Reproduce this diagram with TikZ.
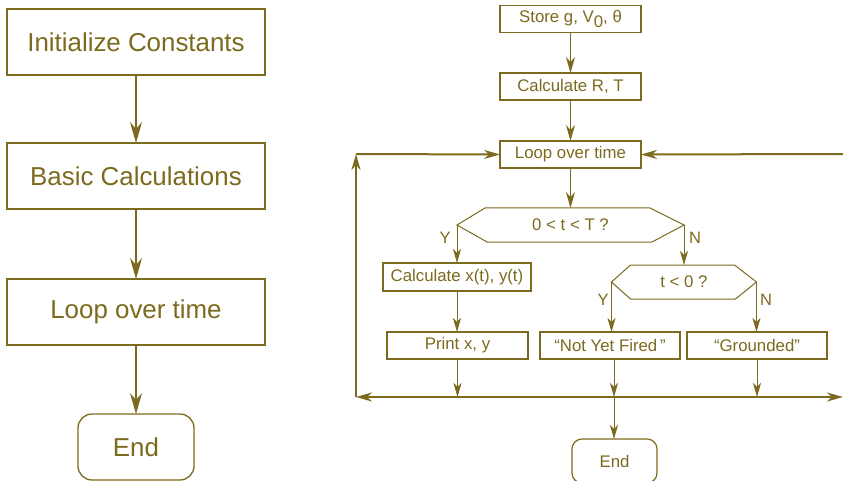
\documentclass[tikz,border=0pt]{standalone}
\usepackage{fontspec}
\setmainfont{Liberation Sans}
\usetikzlibrary{arrows.meta,calc}
\definecolor{ink}{RGB}{124,106,30}
\begin{document}
\begin{tikzpicture}[x=1pt,y=-1pt,
  every node/.style={inner sep=0pt,outer sep=0pt,text=ink},
  bigbox/.style={draw=ink,line width=1.3pt,minimum width=258pt,minimum height=66pt,
    font=\fontsize{25.9}{30}\selectfont},
  bigend/.style={bigbox,minimum width=116pt,rounded corners=14pt},
  box/.style={draw=ink,line width=1.2pt,minimum height=27pt,
    font=\fontsize{16.8}{19}\selectfont},
  endbox/.style={box,rounded corners=10pt,minimum width=85pt,minimum height=44pt},
  decision/.style={minimum height=34pt,font=\fontsize{16.8}{19}\selectfont},
  yn/.style={font=\fontsize{16.5}{19}\selectfont},
  bigarrow/.style={draw=ink,line width=1.3pt,-{Stealth[length=21pt,width=12pt,inset=7pt]}},
  arrow/.style={draw=ink,line width=1.2pt,-{Stealth[length=16pt,width=9pt,inset=5pt]}},
  thinarrow/.style={draw=ink,line width=0.9pt,-{Stealth[length=14pt,width=8pt,inset=4pt]}},
  looparrow/.style={draw=ink,line width=2pt,-{Stealth[length=16pt,width=9pt,inset=5pt]}},
  hexline/.style={draw=ink,line width=1pt,line join=miter}]
\useasboundingbox[fill=white] (0,0) rectangle (843,481);

% overview column
\node[bigbox] (init)  at (136,42)  {Initialize Constants};
\node[bigbox] (basic) at (136,176) {Basic Calculations};
\node[bigbox] (loopL) at (136,312) {Loop over time};
\node[bigend] (endL)  at (136,447) {End};
\draw[bigarrow] (init) -- (basic);
\draw[bigarrow] (basic) -- (loopL);
\draw[bigarrow] (loopL) -- (endL);

% detailed flow
\node[box,minimum width=141pt] (store) at (570.5,19)  {Store g, V\raisebox{-0.28em}{0}, θ};
\node[box,minimum width=141pt] (calc)  at (570.5,86.5) {Calculate R, T};
\node[box,minimum width=141pt] (loopR) at (570.5,154.5) {Loop over time};
\node[decision,minimum width=227pt] (d1) at (570.5,225) {0 < t < T ?};
\draw[hexline] (d1.west) -- ([xshift=28pt]d1.north west) -- ([xshift=-34pt]d1.north east)
  -- (d1.east) -- ([xshift=-32pt]d1.south east) -- ([xshift=30pt]d1.south west) -- cycle;
\node[box,minimum width=148pt,minimum height=28pt] (cxy) at (457,277) {Calculate x(t), y(t)};
\node[box,minimum width=141pt] (print) at (457.5,345.5) {Print x, y};
\node[decision,minimum width=145pt] (d2) at (684,282) {t < 0 ?};
\draw[hexline] (d2.west) -- ([xshift=19pt]d2.north west) -- ([xshift=-22pt]d2.north east)
  -- (d2.east) -- ([xshift=-21pt]d2.south east) -- ([xshift=19pt]d2.south west) -- cycle;
\node[box,minimum width=140pt] (nyf) at (610,345.5) {“Not Yet Fired\,”};
\node[box,minimum width=140pt] (gr)  at (757,345.5) {“Grounded”};
\node[endbox] (endR) at (614.5,461) {End};

\node[yn] (y1) at (445,238) {Y};
\node[yn] (n1) at (695,238) {N};
\node[yn] (y2) at (603,300) {Y};
\node[yn] (n2) at (766,300) {N};

\draw[arrow] (store) -- (calc);
\draw[arrow] (calc) -- (loopR);
\draw[arrow] (loopR) -- (d1.north -| loopR.south);
\draw[thinarrow] (d1.west) -- (d1.west |- cxy.north);
\draw[thinarrow] (d1.east) -- (d1.east |- d2.north);
\draw[thinarrow] (cxy) -- (cxy.south |- print.north);
\draw[thinarrow] (d2.west) -- (d2.west |- nyf.north);
\draw[thinarrow] (d2.east) -- (d2.east |- gr.north);

% collecting line and loop back
\coordinate (j)   at (614,397);
\coordinate (bl)  at (356,397);
\coordinate (tl)  at (356,154);
\coordinate (br)  at (843,397);
\coordinate (tr)  at (843,154);
\draw[thinarrow] (print.south) -- (print.south |- j);
\draw[thinarrow] (j |- nyf.south) -- (j);
\draw[thinarrow] (gr.south) -- (gr.south |- j);
\draw[looparrow] (j) -- (bl);
\draw[looparrow] (j) -- (br);
\draw[looparrow] (bl) -- (tl);
\draw[looparrow] (tl) -- (loopR.west);
\draw[looparrow] (tr) -- (loopR.east);
\draw[thinarrow] (j) -- (endR.north -| j);
\end{tikzpicture}
\end{document}
